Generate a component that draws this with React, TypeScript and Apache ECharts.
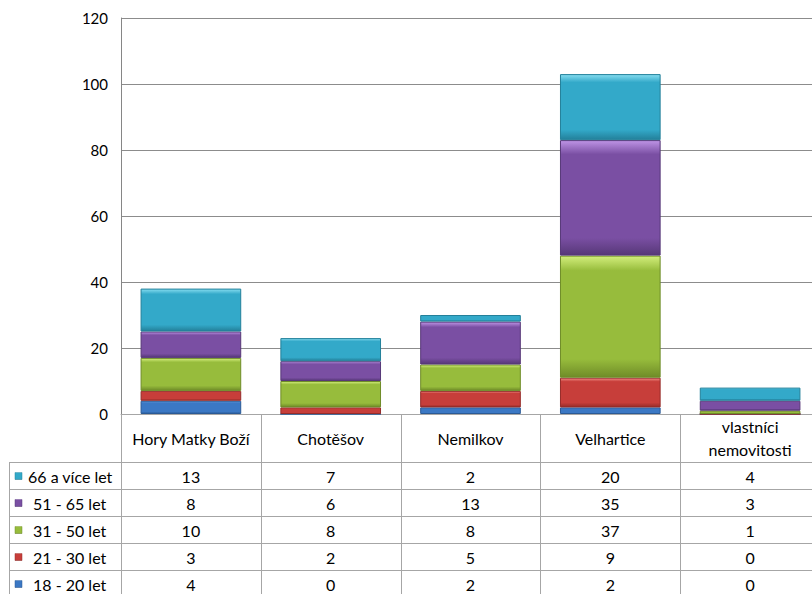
import React, { useEffect, useRef } from "react";
import * as echarts from "echarts";

const categories = ["Hory Matky Boží", "Chotěšov", "Nemilkov", "Velhartice", "vlastníci\nnemovitosti"];
const seriesNames = ["18 - 20 let", "21 - 30 let", "31 - 50 let", "51 - 65 let", "66 a více let"];
const age18_20 = [4, 0, 2, 2, 0];
const age21_30 = [3, 2, 5, 9, 0];
const age31_50 = [10, 8, 8, 37, 1];
const age51_65 = [8, 6, 13, 35, 3];
const age66plus = [13, 7, 2, 20, 4];
const yTicks = [0, 20, 40, 60, 80, 100, 120];

const seriesData = [age18_20, age21_30, age31_50, age51_65, age66plus];
const baseColors = ["#3B78C4", "#C73E3A", "#97BC3C", "#7A4FA3", "#33A9C9"];
const lightColors = ["#7FB0EA", "#F08A84", "#D3EE7C", "#BE94E6", "#86DDF0"];
const darkColors = ["#2A5A96", "#962C29", "#6F8C28", "#573878", "#23809A"];

const FONT = "Lato, 'Open Sans', sans-serif";
const GRID_LEFT = 121;
const GRID_TOP = 18;
const GRID_BOTTOM_Y = 414;
const W = 812;
const CHART_W = 820;
const H = 594;
const HEADER_BOTTOM = 462;
const ROW_H = 27;
const LINE = "#A6A6A6";
const TABLE_FONT = 16;

function grad(i: number) {
  return new echarts.graphic.LinearGradient(0, 0, 0, 1, [
    { offset: 0, color: lightColors[i] },
    { offset: 0.12, color: baseColors[i] },
    { offset: 0.85, color: baseColors[i] },
    { offset: 1, color: darkColors[i] },
  ]);
}

export default function App() {
  const ref = useRef<HTMLDivElement>(null);
  useEffect(() => {
    if (!ref.current) return;
    const chart = echarts.init(ref.current, undefined, { renderer: "svg" });
    const option: any = {
      animation: false,
      backgroundColor: "#ffffff",
      textStyle: { fontFamily: FONT },
      grid: {
        left: GRID_LEFT,
        right: 0,
        top: GRID_TOP,
        bottom: H - GRID_BOTTOM_Y,
        containLabel: false,
      },
      xAxis: {
        type: "category",
        data: categories,
        axisLine: { show: true, lineStyle: { color: LINE } },
        axisTick: { show: false },
        axisLabel: {
          show: true,
          margin: 24,
          verticalAlign: "middle",
          color: "#000",
          fontSize: TABLE_FONT,
          fontFamily: FONT,
          lineHeight: 23,
          interval: 0,
        },
      },
      yAxis: {
        type: "value",
        min: yTicks[0],
        max: yTicks[yTicks.length - 1],
        interval: yTicks[1] - yTicks[0],
        axisLine: { show: true, lineStyle: { color: "#868686" } },
        axisTick: { show: false },
        axisLabel: { color: "#000", fontSize: 15, fontFamily: FONT, margin: 13 },
        splitLine: { lineStyle: { color: "#8C8C8C" } },
      },
      series: seriesData.map((d, i) => ({
        name: seriesNames[i],
        type: "bar",
        stack: "total",
        data: d,
        barWidth: "72%",
        itemStyle: { color: grad(i), borderColor: darkColors[i], borderWidth: 1 },
      })),
    };
    chart.setOption(option);

    // data table drawn under the plot
    const graphics: any[] = [];
    const colEdges: number[] = [];
    for (let i = 0; i <= categories.length; i++) {
      colEdges.push(GRID_LEFT + ((CHART_W - GRID_LEFT) * i) / categories.length);
    }
    const tableBottom = HEADER_BOTTOM + ROW_H * seriesNames.length;
    colEdges.forEach((x) => {
      graphics.push({
        type: "line",
        shape: { x1: Math.round(x) + 0.5, y1: GRID_BOTTOM_Y, x2: Math.round(x) + 0.5, y2: tableBottom },
        style: { stroke: LINE, lineWidth: 1 },
      });
    });
    graphics.push({
      type: "line",
      shape: { x1: 9.5, y1: HEADER_BOTTOM, x2: 9.5, y2: tableBottom },
      style: { stroke: LINE, lineWidth: 1 },
    });
    for (let r = 0; r <= seriesNames.length; r++) {
      const y = HEADER_BOTTOM + r * ROW_H + 0.5;
      graphics.push({
        type: "line",
        shape: { x1: 9, y1: y, x2: CHART_W, y2: y },
        style: { stroke: LINE, lineWidth: 1 },
      });
    }
    // rows: top row is last series
    const rowOrder = [4, 3, 2, 1, 0];
    rowOrder.forEach((si, r) => {
      const cy = HEADER_BOTTOM + r * ROW_H + ROW_H / 2 + 1;
      graphics.push({
        type: "rect",
        shape: { x: 15, y: cy - 4, width: 7, height: 7 },
        style: { fill: grad(si), stroke: darkColors[si], lineWidth: 0.5 },
      });
      graphics.push({
        type: "text",
        x: si === 4 ? 28 : 33,
        y: cy,
        style: {
          text: seriesNames[si],
          fill: "#000",
          font: `${TABLE_FONT}px ${FONT}`,
          textVerticalAlign: "middle",
          textAlign: "left",
        },
      });
      seriesData[si].forEach((v, c) => {
        const px = chart.convertToPixel({ xAxisIndex: 0 }, c) as number;
        graphics.push({
          type: "text",
          x: px,
          y: cy,
          style: {
            text: String(v),
            fill: "#000",
            font: `${TABLE_FONT}px ${FONT}`,
            textAlign: "center",
            textVerticalAlign: "middle",
          },
        });
      });
    });
    chart.setOption({ graphic: graphics });

    return () => chart.dispose();
  }, []);
  return (
    <div style={{ position: "absolute", left: 0, top: 0, width: W, height: H, background: "#fff", overflow: "hidden" }}>
      <div ref={ref} style={{ width: CHART_W, height: H }} />
    </div>
  );
}
